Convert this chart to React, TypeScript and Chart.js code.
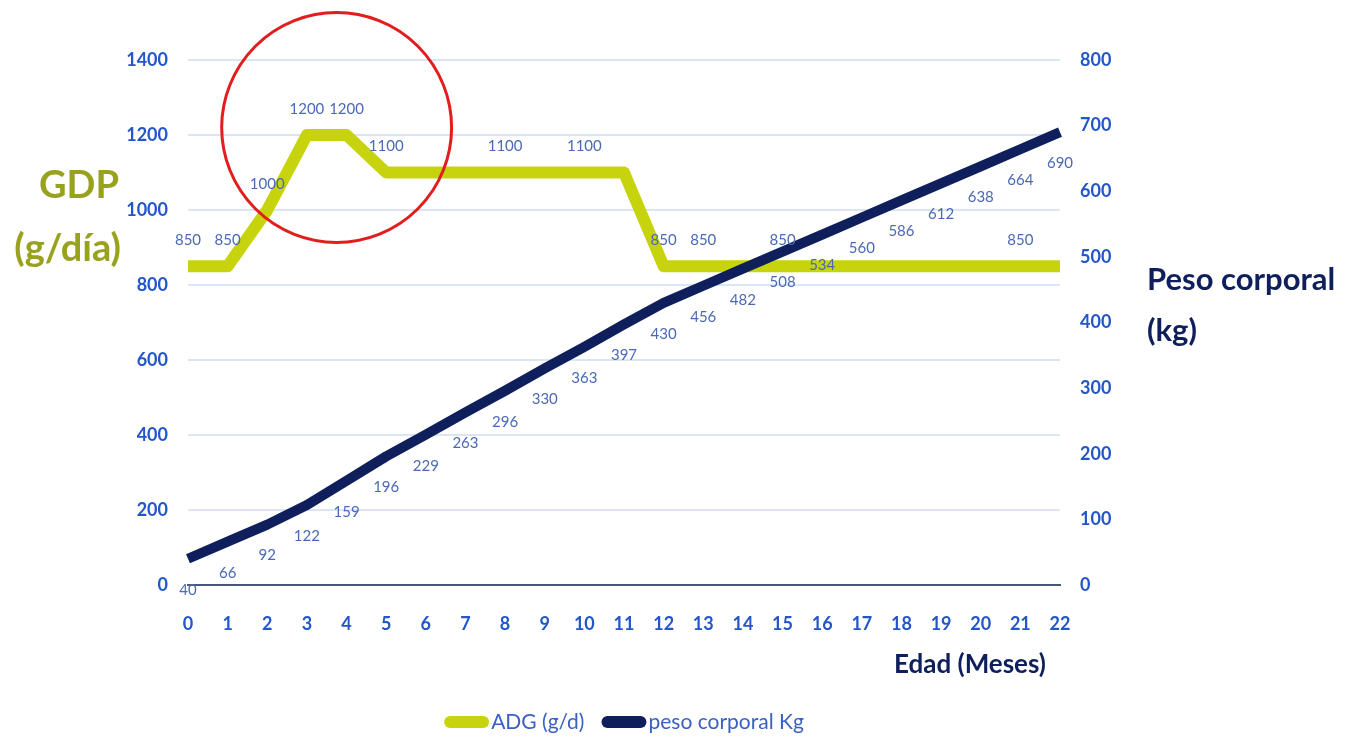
import { useEffect, useRef } from "react";
import { Chart, registerables } from "chart.js";

Chart.register(...registerables);

// Edad (meses)
const months = ["0","1","2","3","4","5","6","7","8","9","10","11","12","13","14","15","16","17","18","19","20","21","22"];
// Ganancia diaria de peso (g/día)
const adg = [850, 850, 1000, 1200, 1200, 1100, 1100, 1100, 1100, 1100, 1100, 1100, 850, 850, 850, 850, 850, 850, 850, 850, 850, 850, 850];
// Peso corporal (kg)
const weight = [40, 66, 92, 122, 159, 196, 229, 263, 296, 330, 363, 397, 430, 456, 482, 508, 534, 560, 586, 612, 638, 664, 690];
// Puntos de ADG que llevan etiqueta
const adgLabelIdx = [0, 1, 2, 3, 4, 5, 8, 10, 12, 13, 15, 21];
// Escalas
const leftTicks = [0, 200, 400, 600, 800, 1000, 1200, 1400];
const rightTicks = [0, 100, 200, 300, 400, 500, 600, 700, 800];
// Círculo que resalta el pico de ADG (en unidades de datos)
const highlight = { month: 3.75, gdp: 1220, radiusMonths: 2.9 };

const GREEN = "#c7d30c";
const NAVY = "#0e1f5b";
const TICK_BLUE = "#2356c9";
const LABEL_BLUE = "#4a69b6";
const OLIVE = "#98a21e";

const overlayPlugin = {
  id: "overlay",
  afterDatasetsDraw(chart: any) {
    const { ctx, chartArea } = chart;
    const xs = chart.scales.x;
    const yl = chart.scales.yL;
    const yr = chart.scales.yR;
    ctx.save();
    ctx.font = "15px Lato";
    ctx.fillStyle = LABEL_BLUE;
    ctx.textAlign = "center";
    ctx.textBaseline = "middle";
    // etiquetas ADG por encima de la línea
    adgLabelIdx.forEach((i) => {
      const x = xs.getPixelForValue(i);
      const y = yl.getPixelForValue(adg[i]);
      ctx.fillText(String(adg[i]), x, y - 26);
    });
    // etiquetas de peso por debajo de la línea
    weight.forEach((v, i) => {
      const x = xs.getPixelForValue(i);
      const y = yr.getPixelForValue(v);
      ctx.fillText(String(v), x, y + 31);
    });
    // círculo rojo
    const cx = xs.getPixelForValue(highlight.month);
    const cy = yl.getPixelForValue(highlight.gdp);
    const r = xs.getPixelForValue(highlight.radiusMonths) - xs.getPixelForValue(0);
    ctx.beginPath();
    ctx.arc(cx, cy, r, 0, Math.PI * 2);
    ctx.strokeStyle = "#e11d1d";
    ctx.lineWidth = 3;
    ctx.stroke();

    // títulos de ejes
    ctx.textBaseline = "middle";
    ctx.fillStyle = OLIVE;
    ctx.font = "bold 38px Lato";
    ctx.textAlign = "right";
    ctx.fillText("GDP", 119, 186);
    ctx.fillText("(g/día)", 121, 249);

    ctx.fillStyle = NAVY;
    ctx.font = "bold 31px Lato";
    ctx.textAlign = "left";
    ctx.fillText("Peso corporal", 1147, 280);
    ctx.fillText("(kg)", 1147, 331);

    ctx.font = "bold 26px Lato";
    ctx.textAlign = "right";
    ctx.fillText("Edad (Meses)", chartArea.right - 14, 665);

    // leyenda
    const items = [
      { text: "ADG (g/d)", color: GREEN },
      { text: "peso corporal Kg", color: NAVY },
    ];
    ctx.font = "21px Lato";
    const barW = 45, barH = 12, gapText = 2, gapItem = 17;
    const widths = items.map((it) => barW + gapText + ctx.measureText(it.text).width);
    const total = widths.reduce((a, b) => a + b, 0) + gapItem * (items.length - 1);
    let lx = (chartArea.left + chartArea.right) / 2 - total / 2;
    const ly = 722;
    items.forEach((it, k) => {
      ctx.fillStyle = it.color;
      ctx.beginPath();
      (ctx as any).roundRect(lx, ly - barH / 2, barW, barH, 6);
      ctx.fill();
      ctx.fillStyle = "#3b60c2";
      ctx.textAlign = "left";
      ctx.fillText(it.text, lx + barW + gapText, ly);
      lx += widths[k] + gapItem;
    });
    ctx.restore();
  },
};

const tickFont = { family: "Lato", weight: "bold" as const, size: 18 };

export default function App() {
  const ref = useRef<HTMLCanvasElement | null>(null);
  useEffect(() => {
    if (!ref.current) return;
    const chart = new Chart(ref.current, {
      type: "line",
      data: {
        labels: months,
        datasets: [
          {
            label: "ADG (g/d)",
            data: adg,
            yAxisID: "yL",
            borderColor: GREEN,
            backgroundColor: GREEN,
            borderWidth: 12,
            pointRadius: 0,
            tension: 0,
            borderJoinStyle: "round",
            order: 1,
          },
          {
            label: "peso corporal Kg",
            data: weight,
            yAxisID: "yR",
            borderColor: NAVY,
            backgroundColor: NAVY,
            borderWidth: 10,
            pointRadius: 0,
            tension: 0,
            borderJoinStyle: "round",
            order: 0,
          },
        ],
      },
      options: {
        responsive: false,
        animation: false,
        devicePixelRatio: 1,
        layout: { padding: { top: 60, left: 0, right: 0, bottom: 0 } },
        plugins: {
          legend: { display: false },
          tooltip: { enabled: false },
        },
        scales: {
          x: {
            type: "category",
            offset: false,
            grid: { display: false, drawTicks: false },
            border: { display: true, color: "#49567a", width: 2 },
            ticks: {
              color: TICK_BLUE,
              font: tickFont,
              padding: 28,
              maxRotation: 0,
              autoSkip: false,
            },
            afterFit: (s: any) => {
              s.height = 153;
            },
          },
          yL: {
            position: "left",
            min: leftTicks[0],
            max: leftTicks[leftTicks.length - 1],
            afterBuildTicks: (s: any) => {
              s.ticks = leftTicks.map((v) => ({ value: v }));
            },
            grid: { color: "#dbe5f6", lineWidth: 2, drawTicks: false },
            border: { display: false },
            ticks: {
              color: TICK_BLUE,
              font: tickFont,
              padding: 20,
              callback: (v: any) => String(v),
            },
            afterFit: (s: any) => {
              s.width = 188;
            },
          },
          yR: {
            position: "right",
            min: rightTicks[0],
            max: rightTicks[rightTicks.length - 1],
            afterBuildTicks: (s: any) => {
              s.ticks = rightTicks.map((v) => ({ value: v }));
            },
            grid: { display: false, drawTicks: false },
            border: { display: false },
            ticks: {
              color: TICK_BLUE,
              font: tickFont,
              padding: 20,
              callback: (v: any) => String(v),
            },
            afterFit: (s: any) => {
              s.width = 293;
            },
          },
        },
      },
      plugins: [overlayPlugin],
    });
    return () => chart.destroy();
  }, []);
  return (
    <div style={{ position: "absolute", left: 0, top: 0, width: 1353, height: 738, background: "#fff" }}>
      <canvas ref={ref} width={1353} height={738} style={{ display: "block" }} />
    </div>
  );
}
